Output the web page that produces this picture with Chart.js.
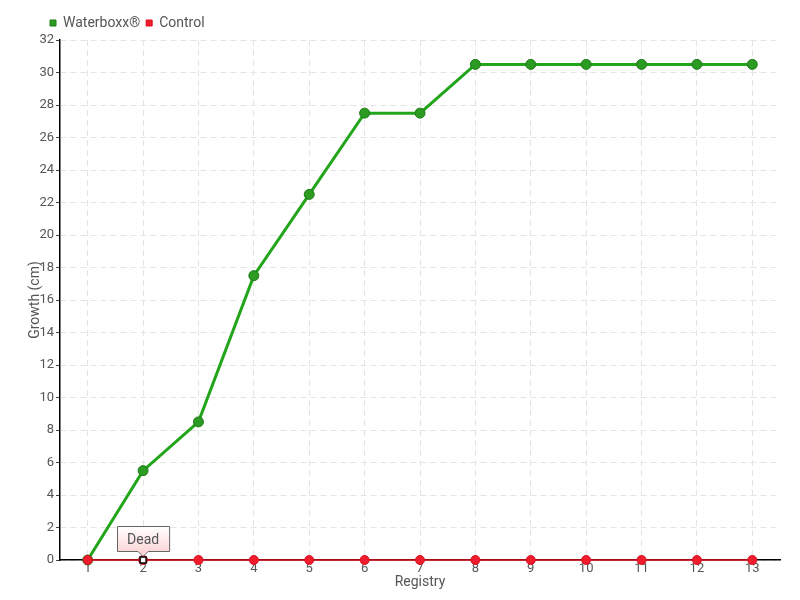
<!DOCTYPE html>
<html>
<head>
<meta charset="utf-8">
<script src="https://cdn.jsdelivr.net/npm/chart.js@4.4.0/dist/chart.umd.min.js"></script>
<style>
  html, body { margin: 0; padding: 0; background: #fff; }
  #wrap { width: 800px; height: 600px; position: relative; }
</style>
</head>
<body>
<div id="wrap"><canvas id="growthChart"></canvas></div>
<script>
  const registry = ["1", "2", "3", "4", "5", "6", "7", "8", "9", "10", "11", "12", "13"];
  const waterboxx = [0, 5.5, 8.5, 17.5, 22.5, 27.5, 27.5, 30.5, 30.5, 30.5, 30.5, 30.5, 30.5];
  const control = [0, 0, 0, 0, 0, 0, 0, 0, 0, 0, 0, 0, 0];
  const noteIndex = 1;
  const noteText = "Dead";

  const FONT = "Roboto, sans-serif";
  Chart.defaults.font.family = FONT;
  Chart.defaults.color = "#555";

  // draws the "Dead" callout over the control point
  const notePlugin = {
    id: "note",
    afterLayout(chart) {
      // legend sits a bit left of the plot edge
      chart.legend.left -= 16;
      chart.legend.right -= 16;
    },
    afterDatasetsDraw(chart) {
      const { ctx, scales } = chart;
      const px = scales.x.getPixelForValue(noteIndex);
      const py = scales.y.getPixelForValue(control[noteIndex]);

      ctx.save();
      ctx.font = "14px " + FONT;
      const w = ctx.measureText(noteText).width + 20;
      const h = 25;
      const bx = Math.round(px - w / 2) + 0.5;
      const by = Math.round(py - 9 - h) + 0.5;

      const grad = ctx.createLinearGradient(0, by, 0, by + h);
      grad.addColorStop(0, "#ffffff");
      grad.addColorStop(1, "#fcd6d6");
      ctx.beginPath();
      ctx.moveTo(bx, by);
      ctx.lineTo(bx + w, by);
      ctx.lineTo(bx + w, by + h);
      ctx.lineTo(px + 5, by + h);
      ctx.lineTo(px, by + h + 5);
      ctx.lineTo(px - 5, by + h);
      ctx.lineTo(bx, by + h);
      ctx.closePath();
      ctx.fillStyle = grad;
      ctx.fill();
      ctx.strokeStyle = "#666";
      ctx.lineWidth = 1;
      ctx.stroke();

      ctx.fillStyle = "#555";
      ctx.textAlign = "center";
      ctx.textBaseline = "middle";
      ctx.fillText(noteText, px, by + h / 2 + 1);

      // hover marker
      ctx.fillStyle = "#fff";
      ctx.strokeStyle = "#000";
      ctx.lineWidth = 1.5;
      ctx.fillRect(px - 3, py - 3, 6, 6);
      ctx.strokeRect(px - 3, py - 3, 6, 6);
      ctx.restore();
    }
  };

  new Chart(document.getElementById("growthChart"), {
    type: "line",
    data: {
      labels: registry,
      datasets: [
        {
          label: "Waterboxx\u00ae",
          data: waterboxx,
          order: 1,
          clip: false,
          borderColor: "#22a51a",
          backgroundColor: "#22a51a",
          borderWidth: 3,
          tension: 0,
          pointRadius: 5,
          pointBackgroundColor: "#2b9b22",
          pointBorderColor: "#1e7a18",
          pointBorderWidth: 1
        },
        {
          label: "Control",
          data: control,
          order: 0,
          clip: false,
          borderColor: "#e0101e",
          backgroundColor: "#e8192b",
          borderWidth: 1.5,
          tension: 0,
          pointRadius: 4.5,
          pointBackgroundColor: "#ee1c2c",
          pointBorderColor: "#dd1020",
          pointBorderWidth: 1
        }
      ]
    },
    options: {
      responsive: true,
      maintainAspectRatio: false,
      animation: false,
      layout: { padding: { left: 0, right: 20, top: 10, bottom: 0 } },
      plugins: {
        legend: {
          align: "start",
          fullSize: false,
          labels: {
            usePointStyle: true,
            pointStyle: "rect",
            boxWidth: 6,
            boxHeight: 6,
            padding: 6,
            font: { size: 14 },
            color: "#555",
            sort: (a, b) => a.datasetIndex - b.datasetIndex
          }
        },
        tooltip: { enabled: false }
      },
      scales: {
        x: {
          offset: true,
          border: { color: "#000", width: 1.5, dash: [6, 4] },
          grid: {
            offset: false,
            color: "#e4e4e4",
            drawTicks: false
          },
          ticks: { padding: 1, font: { size: 13 }, color: "#555", maxRotation: 0 },
          title: { display: true, text: "Registry", padding: { top: 0, bottom: 9 }, font: { size: 14 }, color: "#555" },
          afterFit(scale) { scale.height = 40; }
        },
        y: {
          min: 0,
          max: 32,
          border: { color: "#000", width: 1.5, dash: [6, 4] },
          grid: {
            color: "#e4e4e4",
            tickColor: "#444",
            tickLength: 4,
            tickBorderDash: []
          },
          ticks: { stepSize: 2, padding: 2, font: { size: 13 }, color: "#555" },
          title: { display: true, text: "Growth (cm)", padding: { top: 27, bottom: 0 }, font: { size: 14 }, color: "#555" },
          afterFit(scale) { scale.width = 60; }
        }
      }
    },
    plugins: [notePlugin]
  });
</script>
</body>
</html>
